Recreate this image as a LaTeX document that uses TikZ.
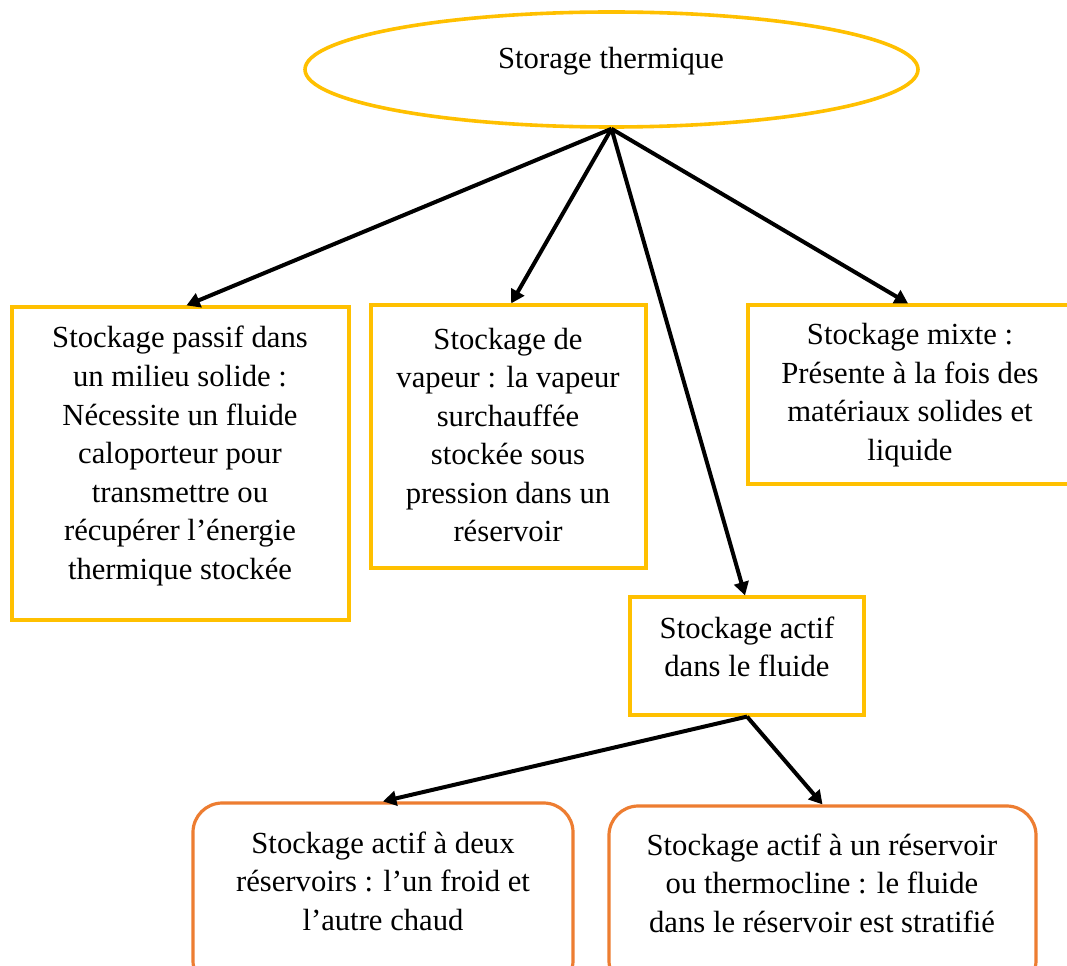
\documentclass[tikz,border=0pt]{standalone}
\usepackage{fontspec}
\setmainfont{Liberation Serif}
\usetikzlibrary{arrows.meta,shapes.geometric}
\definecolor{gold}{HTML}{FFC000}
\definecolor{orng}{HTML}{ED7D31}
\tikzset{
  ybox/.style={draw=gold, line width=2.4pt, rectangle, inner sep=0pt},
  obox/.style={draw=orng, line width=2.4pt, rectangle, rounded corners=22pt, inner sep=0pt},
  txt/.style={align=center, inner sep=0pt, font=\fontsize{23}{28.9}\selectfont},
  conn/.style={line width=3pt, -{Triangle[length=10pt,width=11pt]}}
}
\begin{document}
\begin{tikzpicture}[x=0.75pt,y=-0.75pt]
\path[use as bounding box, clip] (0,0) rectangle (1067,966);
\fill[white] (0,0) rectangle (1067,966);
% root
\node[ellipse, draw=gold, line width=2.7pt, minimum width=459.75pt, minimum height=86.25pt, inner sep=0pt] (root) at (611.5,69.5) {};
\node[txt] (roott) at (611,61) {Storage thermique};
% boxes
\node[ybox, minimum width=252.75pt, minimum height=234.75pt] (b1) at (180.5,463.5) {};
\node[txt] (b1t) at (180,456) {Stockage passif dans\\un milieu solide :\\Nécessite un fluide\\caloporteur pour\\transmettre ou\\récupérer l’énergie\\thermique stockée};
\node[ybox, minimum width=206.25pt, minimum height=197.25pt] (b2) at (508.5,436.5) {};
\node[txt] (b2t) at (508,435) {Stockage de\\vapeur : la vapeur\\surchauffée\\stockée sous\\pression dans un\\réservoir};
\node[ybox, minimum width=243pt, minimum height=134.25pt] (b3) at (910,394.5) {};
\node[txt] (b3t) at (910,395) {Stockage mixte :\\Présente à la fois des\\matériaux solides et\\liquide};
\node[ybox, minimum width=175.5pt, minimum height=88.5pt] (b4) at (747,656) {};
\node[txt] (b4t) at (747,647) {Stockage actif\\dans le fluide};
\node[obox, minimum width=285pt, minimum height=140.25pt] (b5) at (383,896.5) {};
\node[txt] (b5t) at (383,881) {Stockage actif à deux\\réservoirs : l’un froid et\\l’autre chaud};
\node[obox, minimum width=320.25pt, minimum height=138pt] (b6) at (822.5,898) {};
\node[txt] (b6t) at (822,883) {Stockage actif à un réservoir\\ou thermocline : le fluide\\dans le réservoir est stratifié};
% connectors
\draw[conn] (root.south) -- ([xshift=4.5pt]b1.north);
\draw[conn] (root.south) -- ([xshift=2pt]b2.north);
\draw[conn] (root.south) -- ([xshift=-1.5pt]b3.north);
\draw[conn] (root.south) -- ([xshift=-1.5pt]b4.north);
\draw[conn] (b4.south) -- (b5.north);
\draw[conn] (b4.south) -- (b6.north);
\end{tikzpicture}
\end{document}
